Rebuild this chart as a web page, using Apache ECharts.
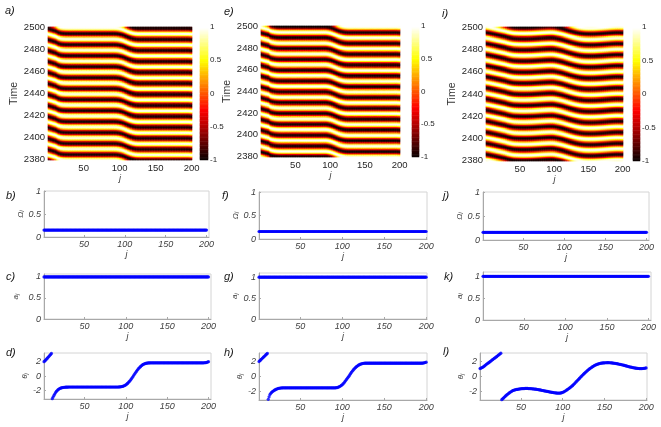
<!DOCTYPE html>
<html><head><meta charset="utf-8">
<script src="https://cdn.jsdelivr.net/npm/echarts@6.0.0/dist/echarts.min.js"></script>
<style>html,body{margin:0;padding:0;background:#fff}#c{width:661px;height:427px}</style>
</head><body><div id="c"></div><script>
// ---------- data ----------
const thetaA = [
1.95,2.06,2.18,2.30,2.43,2.56,2.69,2.82,2.95,3.08,
-3.10,-2.88,-2.66,-2.46,-2.27,-2.11,-1.98,-1.87,-1.78,-1.71,
-1.66,-1.62,-1.59,-1.57,-1.55,-1.54,-1.53,-1.52,-1.51,-1.51,
-1.50,-1.50,-1.50,-1.50,-1.50,-1.50,-1.50,-1.50,-1.50,-1.50,
-1.50,-1.50,-1.50,-1.50,-1.50,-1.50,-1.50,-1.50,-1.50,-1.50,
-1.50,-1.50,-1.50,-1.50,-1.50,-1.50,-1.50,-1.50,-1.50,-1.50,
-1.50,-1.50,-1.50,-1.50,-1.50,-1.50,-1.50,-1.50,-1.50,-1.50,
-1.50,-1.50,-1.50,-1.50,-1.50,-1.50,-1.50,-1.50,-1.50,-1.50,
-1.50,-1.50,-1.50,-1.50,-1.50,-1.50,-1.50,-1.50,-1.50,-1.50,
-1.50,-1.49,-1.48,-1.47,-1.45,-1.42,-1.38,-1.33,-1.27,-1.20,
-1.11,-1.01,-0.90,-0.78,-0.65,-0.50,-0.34,-0.17,0.00,0.17,
0.34,0.51,0.67,0.82,0.96,1.09,1.21,1.32,1.42,1.51,
1.58,1.64,1.69,1.72,1.75,1.77,1.78,1.79,1.80,1.80,
1.80,1.80,1.80,1.80,1.80,1.80,1.80,1.80,1.80,1.80,
1.80,1.80,1.80,1.80,1.80,1.80,1.80,1.80,1.80,1.80,
1.80,1.80,1.80,1.80,1.80,1.80,1.80,1.80,1.80,1.80,
1.80,1.80,1.80,1.80,1.80,1.80,1.80,1.80,1.80,1.80,
1.80,1.80,1.80,1.80,1.80,1.80,1.80,1.80,1.80,1.80,
1.80,1.80,1.80,1.80,1.80,1.80,1.80,1.80,1.80,1.80,
1.80,1.80,1.80,1.80,1.81,1.82,1.84,1.87,1.91,1.96];
const thetaE = [
2.00,2.11,2.22,2.33,2.44,2.55,2.66,2.77,2.88,2.99,
3.10,-3.05,-2.72,-2.42,-2.25,-2.12,-2.02,-1.94,-1.86,-1.79,
-1.73,-1.68,-1.64,-1.60,-1.57,-1.55,-1.54,-1.53,-1.52,-1.52,
-1.51,-1.51,-1.51,-1.51,-1.51,-1.51,-1.51,-1.51,-1.51,-1.51,
-1.51,-1.51,-1.51,-1.51,-1.51,-1.51,-1.51,-1.51,-1.51,-1.51,
-1.51,-1.51,-1.51,-1.51,-1.51,-1.51,-1.51,-1.51,-1.51,-1.51,
-1.51,-1.51,-1.51,-1.51,-1.51,-1.51,-1.51,-1.51,-1.51,-1.51,
-1.51,-1.51,-1.51,-1.51,-1.51,-1.51,-1.51,-1.51,-1.51,-1.51,
-1.51,-1.51,-1.51,-1.51,-1.51,-1.51,-1.51,-1.51,-1.51,-1.51,
-1.51,-1.51,-1.50,-1.48,-1.45,-1.40,-1.34,-1.27,-1.19,-1.10,
-0.99,-0.87,-0.73,-0.58,-0.43,-0.27,-0.11,0.05,0.21,0.38,
0.54,0.70,0.85,0.98,1.10,1.21,1.31,1.40,1.48,1.55,
1.61,1.66,1.70,1.73,1.75,1.77,1.78,1.78,1.78,1.78,
1.78,1.78,1.78,1.78,1.78,1.78,1.78,1.78,1.78,1.78,
1.78,1.78,1.78,1.78,1.78,1.78,1.78,1.78,1.78,1.78,
1.78,1.78,1.78,1.78,1.78,1.78,1.78,1.78,1.78,1.78,
1.78,1.78,1.78,1.78,1.78,1.78,1.78,1.78,1.78,1.78,
1.78,1.78,1.78,1.78,1.78,1.78,1.78,1.78,1.78,1.78,
1.78,1.78,1.78,1.78,1.78,1.78,1.78,1.78,1.78,1.78,
1.78,1.78,1.78,1.78,1.78,1.79,1.81,1.84,1.87,1.91];
const thetaI = [
1.06,1.11,1.17,1.23,1.29,1.38,1.47,1.57,1.66,1.74,
1.82,1.90,1.98,2.07,2.16,2.25,2.34,2.42,2.50,2.59,
2.67,2.76,2.85,2.94,3.03,3.12,-3.10,-3.00,-2.90,-2.78,
-2.67,-2.56,-2.46,-2.37,-2.28,-2.19,-2.11,-2.04,-1.97,-1.90,
-1.85,-1.81,-1.78,-1.75,-1.73,-1.71,-1.69,-1.67,-1.65,-1.64,
-1.63,-1.62,-1.61,-1.61,-1.60,-1.60,-1.60,-1.60,-1.61,-1.61,
-1.62,-1.63,-1.64,-1.65,-1.66,-1.67,-1.69,-1.70,-1.72,-1.74,
-1.76,-1.78,-1.80,-1.82,-1.85,-1.87,-1.89,-1.92,-1.94,-1.96,
-1.98,-2.00,-2.03,-2.05,-2.07,-2.09,-2.11,-2.13,-2.15,-2.17,
-2.18,-2.20,-2.21,-2.22,-2.22,-2.22,-2.21,-2.19,-2.16,-2.12,
-2.07,-2.01,-1.94,-1.87,-1.80,-1.72,-1.64,-1.56,-1.47,-1.38,
-1.29,-1.19,-1.08,-0.97,-0.85,-0.73,-0.61,-0.50,-0.38,-0.26,
-0.14,-0.03,0.09,0.20,0.31,0.42,0.53,0.63,0.73,0.82,
0.92,1.01,1.09,1.17,1.25,1.33,1.40,1.46,1.52,1.57,
1.62,1.66,1.70,1.73,1.76,1.78,1.80,1.81,1.82,1.83,
1.84,1.84,1.85,1.85,1.85,1.84,1.84,1.83,1.82,1.80,
1.79,1.77,1.75,1.73,1.71,1.69,1.67,1.64,1.62,1.59,
1.57,1.54,1.51,1.48,1.45,1.42,1.39,1.36,1.33,1.30,
1.27,1.24,1.22,1.19,1.17,1.15,1.13,1.11,1.09,1.08,
1.07,1.06,1.06,1.06,1.06,1.07,1.08,1.10,1.12,1.14];
const omegaB = [
0.15,0.15,0.15,0.15,0.15,0.15,0.15,0.15,0.15,0.15,0.15,0.15,0.15,0.15,0.15,0.15,0.15,0.15,0.15,0.15,
0.15,0.15,0.15,0.15,0.15,0.15,0.15,0.15,0.15,0.15,0.15,0.15,0.15,0.15,0.15,0.15,0.15,0.15,0.15,0.15,
0.15,0.15,0.15,0.15,0.15,0.15,0.15,0.15,0.15,0.15,0.15,0.15,0.15,0.15,0.15,0.15,0.15,0.15,0.15,0.15,
0.15,0.15,0.15,0.15,0.15,0.15,0.15,0.15,0.15,0.15,0.15,0.15,0.15,0.15,0.15,0.15,0.15,0.15,0.15,0.15,
0.15,0.15,0.15,0.15,0.15,0.15,0.15,0.15,0.15,0.15,0.15,0.15,0.15,0.15,0.15,0.15,0.15,0.15,0.15,0.15,
0.15,0.15,0.15,0.15,0.15,0.15,0.15,0.15,0.15,0.15,0.15,0.15,0.15,0.15,0.15,0.15,0.15,0.15,0.15,0.15,
0.15,0.15,0.15,0.15,0.15,0.15,0.15,0.15,0.15,0.15,0.15,0.15,0.15,0.15,0.15,0.15,0.15,0.15,0.15,0.15,
0.15,0.15,0.15,0.15,0.15,0.15,0.15,0.15,0.15,0.15,0.15,0.15,0.15,0.15,0.15,0.15,0.15,0.15,0.15,0.15,
0.15,0.15,0.15,0.15,0.15,0.15,0.15,0.15,0.15,0.15,0.15,0.15,0.15,0.15,0.15,0.15,0.15,0.15,0.15,0.15,
0.15,0.15,0.15,0.15,0.15,0.15,0.15,0.15,0.15,0.15,0.15,0.15,0.15,0.15,0.15,0.15,0.15,0.15,0.15,0.15];
const omegaF = [
0.16,0.16,0.16,0.16,0.16,0.16,0.16,0.16,0.16,0.16,0.16,0.16,0.16,0.16,0.16,0.16,0.16,0.16,0.16,0.16,
0.16,0.16,0.16,0.16,0.16,0.16,0.16,0.16,0.16,0.16,0.16,0.16,0.16,0.16,0.16,0.16,0.16,0.16,0.16,0.16,
0.16,0.16,0.16,0.16,0.16,0.16,0.16,0.16,0.16,0.16,0.16,0.16,0.16,0.16,0.16,0.16,0.16,0.16,0.16,0.16,
0.16,0.16,0.16,0.16,0.16,0.16,0.16,0.16,0.16,0.16,0.16,0.16,0.16,0.16,0.16,0.16,0.16,0.16,0.16,0.16,
0.16,0.16,0.16,0.16,0.16,0.16,0.16,0.16,0.16,0.16,0.16,0.16,0.16,0.16,0.16,0.16,0.16,0.16,0.16,0.16,
0.16,0.16,0.16,0.16,0.16,0.16,0.16,0.16,0.16,0.16,0.16,0.16,0.16,0.16,0.16,0.16,0.16,0.16,0.16,0.16,
0.16,0.16,0.16,0.16,0.16,0.16,0.16,0.16,0.16,0.16,0.16,0.16,0.16,0.16,0.16,0.16,0.16,0.16,0.16,0.16,
0.16,0.16,0.16,0.16,0.16,0.16,0.16,0.16,0.16,0.16,0.16,0.16,0.16,0.16,0.16,0.16,0.16,0.16,0.16,0.16,
0.16,0.16,0.16,0.16,0.16,0.16,0.16,0.16,0.16,0.16,0.16,0.16,0.16,0.16,0.16,0.16,0.16,0.16,0.16,0.16,
0.16,0.16,0.16,0.16,0.16,0.16,0.16,0.16,0.16,0.16,0.16,0.16,0.16,0.16,0.16,0.16,0.16,0.16,0.16,0.16];
const omegaJ = [
0.16,0.16,0.16,0.16,0.16,0.16,0.16,0.16,0.16,0.16,0.16,0.16,0.16,0.16,0.16,0.16,0.16,0.16,0.16,0.16,
0.16,0.16,0.16,0.16,0.16,0.16,0.16,0.16,0.16,0.16,0.16,0.16,0.16,0.16,0.16,0.16,0.16,0.16,0.16,0.16,
0.16,0.16,0.16,0.16,0.16,0.16,0.16,0.16,0.16,0.16,0.16,0.16,0.16,0.16,0.16,0.16,0.16,0.16,0.16,0.16,
0.16,0.16,0.16,0.16,0.16,0.16,0.16,0.16,0.16,0.16,0.16,0.16,0.16,0.16,0.16,0.16,0.16,0.16,0.16,0.16,
0.16,0.16,0.16,0.16,0.16,0.16,0.16,0.16,0.16,0.16,0.16,0.16,0.16,0.16,0.16,0.16,0.16,0.16,0.16,0.16,
0.16,0.16,0.16,0.16,0.16,0.16,0.16,0.16,0.16,0.16,0.16,0.16,0.16,0.16,0.16,0.16,0.16,0.16,0.16,0.16,
0.16,0.16,0.16,0.16,0.16,0.16,0.16,0.16,0.16,0.16,0.16,0.16,0.16,0.16,0.16,0.16,0.16,0.16,0.16,0.16,
0.16,0.16,0.16,0.16,0.16,0.16,0.16,0.16,0.16,0.16,0.16,0.16,0.16,0.16,0.16,0.16,0.16,0.16,0.16,0.16,
0.16,0.16,0.16,0.16,0.16,0.16,0.16,0.16,0.16,0.16,0.16,0.16,0.16,0.16,0.16,0.16,0.16,0.16,0.16,0.16,
0.16,0.16,0.16,0.16,0.16,0.16,0.16,0.16,0.16,0.16,0.16,0.16,0.16,0.16,0.16,0.16,0.16,0.16,0.16,0.16];
const ampC = [
1,1,1,1,1,1,1,1,1,1,1,1,1,1,1,1,1,1,1,1,1,1,1,1,1,1,1,1,1,1,1,1,1,1,1,1,1,1,1,1,
1,1,1,1,1,1,1,1,1,1,1,1,1,1,1,1,1,1,1,1,1,1,1,1,1,1,1,1,1,1,1,1,1,1,1,1,1,1,1,1,
1,1,1,1,1,1,1,1,1,1,1,1,1,1,1,1,1,1,1,1,1,1,1,1,1,1,1,1,1,1,1,1,1,1,1,1,1,1,1,1,
1,1,1,1,1,1,1,1,1,1,1,1,1,1,1,1,1,1,1,1,1,1,1,1,1,1,1,1,1,1,1,1,1,1,1,1,1,1,1,1,
1,1,1,1,1,1,1,1,1,1,1,1,1,1,1,1,1,1,1,1,1,1,1,1,1,1,1,1,1,1,1,1,1,1,1,1,1,1,1,1];
const ampG = [
1,1,1,1,1,1,1,1,1,1,1,1,1,1,1,1,1,1,1,1,1,1,1,1,1,1,1,1,1,1,1,1,1,1,1,1,1,1,1,1,
1,1,1,1,1,1,1,1,1,1,1,1,1,1,1,1,1,1,1,1,1,1,1,1,1,1,1,1,1,1,1,1,1,1,1,1,1,1,1,1,
1,1,1,1,1,1,1,1,1,1,1,1,1,1,1,1,1,1,1,1,1,1,1,1,1,1,1,1,1,1,1,1,1,1,1,1,1,1,1,1,
1,1,1,1,1,1,1,1,1,1,1,1,1,1,1,1,1,1,1,1,1,1,1,1,1,1,1,1,1,1,1,1,1,1,1,1,1,1,1,1,
1,1,1,1,1,1,1,1,1,1,1,1,1,1,1,1,1,1,1,1,1,1,1,1,1,1,1,1,1,1,1,1,1,1,1,1,1,1,1,1];
const ampK = [
1,1,1,1,1,1,1,1,1,1,1,1,1,1,1,1,1,1,1,1,1,1,1,1,1,1,1,1,1,1,1,1,1,1,1,1,1,1,1,1,
1,1,1,1,1,1,1,1,1,1,1,1,1,1,1,1,1,1,1,1,1,1,1,1,1,1,1,1,1,1,1,1,1,1,1,1,1,1,1,1,
1,1,1,1,1,1,1,1,1,1,1,1,1,1,1,1,1,1,1,1,1,1,1,1,1,1,1,1,1,1,1,1,1,1,1,1,1,1,1,1,
1,1,1,1,1,1,1,1,1,1,1,1,1,1,1,1,1,1,1,1,1,1,1,1,1,1,1,1,1,1,1,1,1,1,1,1,1,1,1,1,
1,1,1,1,1,1,1,1,1,1,1,1,1,1,1,1,1,1,1,1,1,1,1,1,1,1,1,1,1,1,1,1,1,1,1,1,1,1,1,1];
const jTicks = [50, 100, 150, 200];
const timeTickStep = 20;
const colorbarTicks = [-1, -0.5, 0, 0.5, 1];
const stripePeriod = 10;          // time units between bright stripes
const phaseA = 1.65, phaseE = 4.64, phaseI = 4.74;
const tStart = 2380, tEnd = 2500;

// ---------- derived grids ----------
const jIndex = thetaA.map((_, k) => k + 1);
const timeRows = [];
for (let t = tStart; t <= tEnd; t++) timeRows.push(t);
const cbLevels = [];
for (let k = 0; k <= 100; k++) cbLevels.push(+(-1 + k * 0.02).toFixed(2));

function phaseField(theta, phase) {
  const out = [];
  for (let r = 0; r < timeRows.length; r++) {
    const w = 2 * Math.PI * timeRows[r] / stripePeriod;
    for (let c = 0; c < theta.length; c++) out.push([c, r, Math.cos(w + theta[c] + phase)]);
  }
  return out;
}

const FONT = 'Liberation Sans';
const hot = ['#0b0000','#600000','#b50000','#ff0000','#ff5500','#ffaa00','#ffff00','#ffff80','#ffffff'];

const heatPanels = [
  {theta: thetaA, phase: phaseA, grid: {left: 48, top: 27, width: 144, height: 133}, bar: {left: 200, top: 27, width: 8, height: 133}},
  {theta: thetaE, phase: phaseE, grid: {left: 261, top: 26, width: 139, height: 131}, bar: {left: 412, top: 26, width: 7, height: 131}},
  {theta: thetaI, phase: phaseI, grid: {left: 486, top: 27, width: 137, height: 134}, bar: {left: 633, top: 27, width: 7, height: 134}}
];
const PI = Math.PI;
const scatterPanels = [
  {data: omegaB, xMax: 203, yMin: 0, yMax: 1, yTicks: [0, 0.5, 1], name: '{i|Ω}{s|j}', gap: 18, grid: {left: 44, top: 191, width: 165, height: 46}},
  {data: ampC, xMax: 203, yMin: 0, yMax: 1.07, yTicks: [0, 0.5, 1], name: '{i|a}{s|j}', gap: 24, grid: {left: 44, top: 274, width: 167, height: 45}},
  {data: thetaA, xMax: 203, yMin: -PI, yMax: PI, yTicks: [-2, 0, 2], name: '{i|θ}{s|j}', gap: 14, grid: {left: 44, top: 353, width: 167, height: 46}},
  {data: omegaF, xMax: 201, yMin: 0, yMax: 1, yTicks: [0, 0.5, 1], name: '{i|Ω}{s|j}', gap: 17, grid: {left: 259, top: 192, width: 168, height: 47}},
  {data: ampG, xMax: 201, yMin: 0, yMax: 1.1, yTicks: [0, 0.5, 1], name: '{i|a}{s|j}', gap: 20, grid: {left: 259, top: 273, width: 168, height: 46}},
  {data: thetaE, xMax: 201, yMin: -PI, yMax: PI, yTicks: [-2, 0, 2], name: '{i|θ}{s|j}', gap: 14, grid: {left: 259, top: 353, width: 168, height: 47}},
  {data: omegaJ, xMax: 203, yMin: 0, yMax: 1, yTicks: [0, 0.5, 1], name: '{i|Ω}{s|j}', gap: 18, grid: {left: 483, top: 192, width: 166, height: 48}},
  {data: ampK, xMax: 203, yMin: 0, yMax: 1.1, yTicks: [0, 0.5, 1], name: '{i|a}{s|j}', gap: 18, grid: {left: 483, top: 272, width: 168, height: 48}},
  {data: thetaI, xMax: 201, yMin: -PI, yMax: PI, yTicks: [-2, 0, 2], name: '{i|θ}{s|j}', gap: 15, grid: {left: 480, top: 353, width: 167, height: 47}}
];
const panelTags = [
  ['a)', 5, 5], ['e)', 224, 6], ['i)', 442, 8],
  ['b)', 6, 190], ['f)', 222, 190], ['j)', 443, 190],
  ['c)', 6, 271], ['g)', 224, 271], ['k)', 444, 271],
  ['d)', 6, 347], ['h)', 224, 347], ['l)', 443, 346]
];

const grids = [], xAxes = [], yAxes = [], series = [];
const heatSeriesIdx = [];

heatPanels.forEach(p => {
  const gi = grids.length;
  grids.push(Object.assign({}, p.grid));
  xAxes.push({
    type: 'category', gridIndex: gi, data: jIndex.map(String), boundaryGap: true,
    axisLine: {show: false}, axisTick: {show: false}, splitLine: {show: false},
    axisLabel: {interval: (i, v) => jTicks.indexOf(Number(v)) >= 0, fontFamily: FONT, fontSize: 9.5, color: '#262626', margin: 3},
    name: 'j', nameLocation: 'middle', nameGap: 13,
    nameTextStyle: {fontFamily: FONT, fontStyle: 'italic', fontSize: 9, color: '#404040'}
  });
  yAxes.push({
    type: 'category', gridIndex: gi, data: timeRows.map(String), boundaryGap: true,
    axisLine: {show: false}, axisTick: {show: false}, splitLine: {show: false},
    axisLabel: {interval: (i, v) => (Number(v) - tStart) % timeTickStep === 0, fontFamily: FONT, fontSize: 9.5, color: '#262626', margin: 3},
    name: 'Time', nameLocation: 'middle', nameGap: 25, nameRotate: 90,
    nameTextStyle: {fontFamily: FONT, fontSize: 10.5, color: '#333'}
  });
  heatSeriesIdx.push(series.length);
  series.push({type: 'heatmap', xAxisIndex: xAxes.length - 1, yAxisIndex: yAxes.length - 1,
    data: phaseField(p.theta, p.phase), progressive: 0, silent: true, animation: false,
    itemStyle: {borderWidth: 0}, emphasis: {disabled: true}});
});

heatPanels.forEach(p => {
  const gi = grids.length;
  grids.push(Object.assign({}, p.bar));
  xAxes.push({type: 'category', gridIndex: gi, data: ['c'], show: false});
  const yCat = yAxes.length;
  yAxes.push({type: 'category', gridIndex: gi, data: cbLevels.map(String), show: false});
  yAxes.push({type: 'value', gridIndex: gi, min: -1, max: 1, position: 'right',
    axisLine: {show: false}, axisTick: {show: false}, splitLine: {show: false},
    axisLabel: {customValues: colorbarTicks, fontFamily: FONT, fontSize: 8, color: '#262626', margin: 2}});
  heatSeriesIdx.push(series.length);
  series.push({type: 'heatmap', xAxisIndex: xAxes.length - 1, yAxisIndex: yCat,
    data: cbLevels.map((v, k) => [0, k, v]), progressive: 0, silent: true, animation: false,
    emphasis: {disabled: true}});
});

const axisGrey = '#a8a8a8';
scatterPanels.forEach(p => {
  const gi = grids.length;
  grids.push(Object.assign({show: true, borderColor: '#d4d4d4', borderWidth: 1}, p.grid));
  xAxes.push({
    type: 'value', gridIndex: gi, min: 1, max: p.xMax,
    axisLine: {show: true, onZero: false, lineStyle: {color: axisGrey, width: 1}},
    axisTick: {show: true, inside: true, length: 2, customValues: jTicks, lineStyle: {color: axisGrey}},
    splitLine: {show: false},
    axisLabel: {customValues: jTicks, fontFamily: FONT, fontStyle: 'italic', fontSize: 9, color: '#404040', margin: 3},
    name: 'j', nameLocation: 'middle', nameGap: 12,
    nameTextStyle: {fontFamily: FONT, fontStyle: 'italic', fontSize: 9, color: '#404040'}
  });
  yAxes.push({
    type: 'value', gridIndex: gi, min: p.yMin, max: p.yMax,
    axisLine: {show: true, onZero: false, lineStyle: {color: axisGrey, width: 1}},
    axisTick: {show: true, inside: true, length: 2, customValues: p.yTicks, lineStyle: {color: axisGrey}},
    splitLine: {show: false},
    axisLabel: {customValues: p.yTicks, fontFamily: FONT, fontStyle: 'italic', fontSize: 9, color: '#404040', margin: 3},
    name: p.name, nameLocation: 'middle', nameGap: p.gap, nameRotate: 90,
    nameTextStyle: {fontFamily: FONT, fontStyle: 'italic', fontSize: 8, color: '#404040',
      rich: {i: {fontFamily: FONT, fontStyle: 'italic', fontSize: 8, color: '#404040'},
             s: {fontFamily: FONT, fontStyle: 'italic', fontSize: 6, color: '#404040', verticalAlign: 'bottom'}}}
  });
  series.push({type: 'scatter', xAxisIndex: xAxes.length - 1, yAxisIndex: yAxes.length - 1,
    data: jIndex.map((j, k) => [j, p.data[k]]), symbol: 'circle', symbolSize: 3.2,
    itemStyle: {color: '#0000ff'}, silent: true, animation: false});
});

const titles = panelTags.map(t => ({text: t[0], left: t[1], top: t[2], padding: 0,
  textStyle: {fontFamily: FONT, fontStyle: 'italic', fontWeight: 'normal', fontSize: 11, color: '#1a1a1a'}}));

const chart = echarts.init(document.getElementById('c'), null, {renderer: 'canvas'});
chart.setOption({
  animation: false,
  backgroundColor: '#ffffff',
  title: titles,
  grid: grids, xAxis: xAxes, yAxis: yAxes,
  visualMap: [{type: 'continuous', show: false, min: -1, max: 1, dimension: 2,
    seriesIndex: heatSeriesIdx, inRange: {color: hot}}],
  series: series
});
</script></body></html>
